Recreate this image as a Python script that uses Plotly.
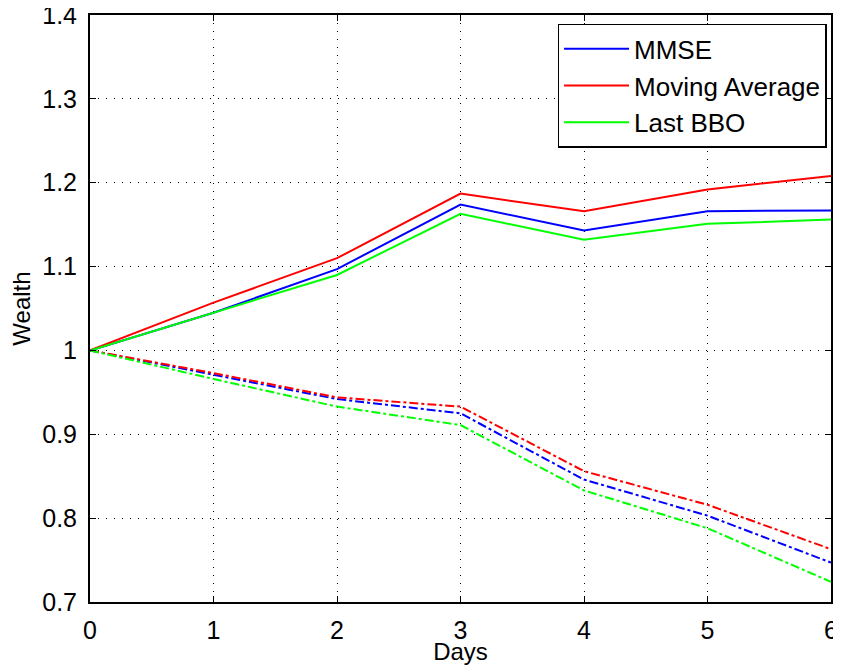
import plotly.graph_objects as go

days = [0, 1, 2, 3, 4, 5, 6]
mmse_up = [1.0, 1.045, 1.097, 1.174, 1.143, 1.166, 1.167]
ma_up = [1.0, 1.057, 1.110, 1.187, 1.166, 1.192, 1.208]
bbo_up = [1.0, 1.045, 1.090, 1.163, 1.132, 1.151, 1.156]
mmse_dn = [1.0, 0.971, 0.942, 0.925, 0.846, 0.803, 0.747]
ma_dn = [1.0, 0.973, 0.944, 0.933, 0.856, 0.816, 0.763]
bbo_dn = [1.0, 0.966, 0.933, 0.911, 0.833, 0.788, 0.724]

names = ["MMSE", "Moving Average", "Last BBO"]
colors = ["#0000ff", "#ff0000", "#00ff00"]
y_ticks = [0.7, 0.8, 0.9, 1.0, 1.1, 1.2, 1.3, 1.4]
y_labels = ["0.7", "0.8", "0.9", "1", "1.1", "1.2", "1.3", "1.4"]

fig = go.Figure()
for name, col, y in zip(names, colors, [mmse_up, ma_up, bbo_up]):
    fig.add_trace(go.Scatter(x=days, y=y, mode="lines", name=name,
                             line=dict(color=col, width=2)))
for name, col, y in zip(names, colors, [mmse_dn, ma_dn, bbo_dn]):
    fig.add_trace(go.Scatter(x=days, y=y, mode="lines", name=name, showlegend=False,
                             line=dict(color=col, width=2, dash="dashdot")))

axis_common = dict(
    showline=True, linecolor="black", linewidth=2, mirror="ticks",
    ticks="inside", ticklen=6, tickcolor="black", tickwidth=1,
    showgrid=True, gridcolor="black", griddash="1px,7px", gridwidth=1,
    zeroline=False, tickfont=dict(size=25, color="black"), automargin=False,
    ticklabeloverflow="allow",
)
fig.update_xaxes(range=[0, 6], tickvals=days, ticktext=[str(d) for d in days],
                 ticklabelstandoff=5,
                 title=dict(text="Days", font=dict(size=24, color="black")),
                 **axis_common)
fig.update_yaxes(range=[0.7, 1.4], tickvals=y_ticks, ticktext=y_labels,
                 ticklabelstandoff=6,
                 title=dict(text="Wealth", font=dict(size=24, color="black"), standoff=6),
                 **axis_common)

fig.update_layout(
    width=833, height=657,
    margin=dict(l=82, r=10, t=7, b=63),
    paper_bgcolor="white", plot_bgcolor="white",
    font=dict(family="Liberation Sans, Arial, sans-serif", size=24, color="black"),
    legend=dict(x=0.994, y=0.985, xanchor="right", yanchor="top",
                bgcolor="white", bordercolor="black", borderwidth=1.5,
                font=dict(size=26), tracegroupgap=0, itemwidth=65),
)

fig.write_html("out.html")
